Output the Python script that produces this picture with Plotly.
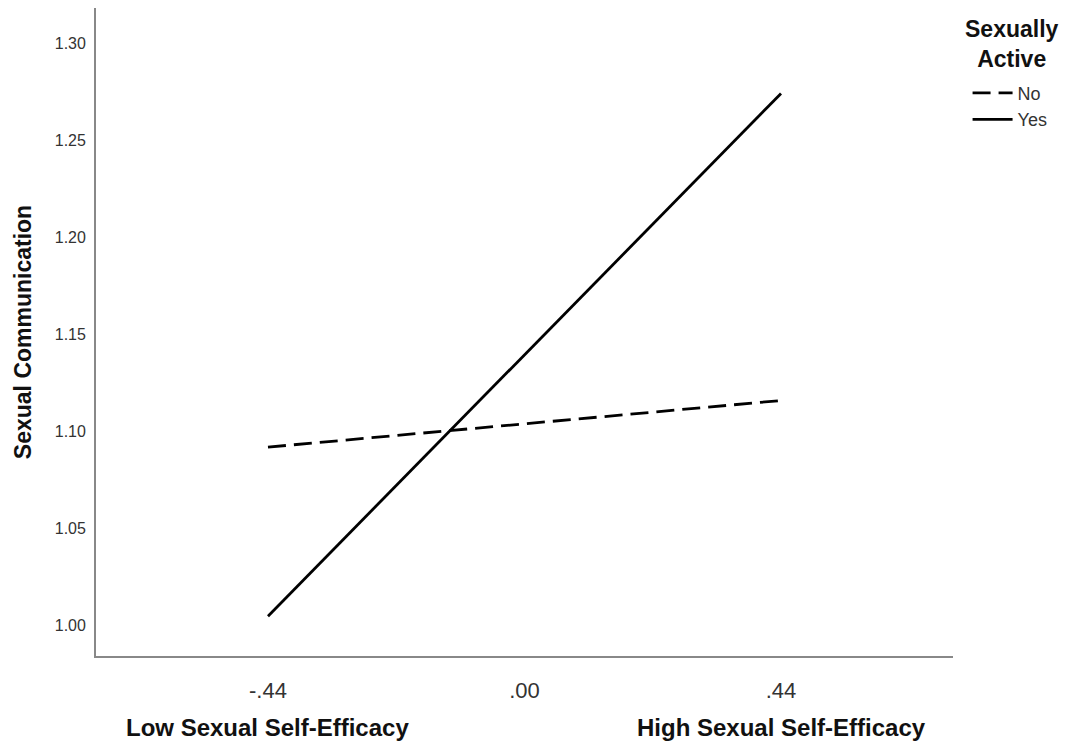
import plotly.graph_objects as go

x_vals = [-0.44, 0.44]
no_vals = [1.092, 1.116]
yes_vals = [1.005, 1.274]
x_tickvals = [-0.44, 0.0, 0.44]
x_ticktext = ["-.44", ".00", ".44"]
y_tickvals = [1.00, 1.05, 1.10, 1.15, 1.20, 1.25, 1.30]

fig = go.Figure()
fig.add_trace(go.Scatter(x=x_vals, y=no_vals, mode="lines", name="No",
                         line=dict(color="black", width=2.8, dash="18px,8px")))
fig.add_trace(go.Scatter(x=x_vals, y=yes_vals, mode="lines", name="Yes",
                         line=dict(color="black", width=2.8)))

fig.update_layout(
    width=1074, height=745,
    margin=dict(l=88, r=129, t=0, b=97, autoexpand=False),
    plot_bgcolor="white", paper_bgcolor="white",
    font=dict(family="Liberation Sans, Arial, sans-serif", color="#222"),
    xaxis=dict(range=[-0.735, 0.735], tickvals=x_tickvals, ticktext=x_ticktext,
               showgrid=False, zeroline=False, showline=True, linecolor="#888", linewidth=1.8,
               ticks="", ticklabelstandoff=14, tickfont=dict(size=22, color="#333")),
    yaxis=dict(range=[0.9845, 1.318], tickvals=y_tickvals, tickformat=".2f",
               showgrid=False, zeroline=False, showline=True, linecolor="#888", linewidth=1.8,
               ticks="", ticklabelstandoff=5, tickfont=dict(size=16, color="#333"),
               title=dict(text="<b>Sexual Communication</b>", font=dict(size=23, color="#111"), standoff=17)),
    legend=dict(x=1.017, y=0.897, xanchor="left", yanchor="top",
                font=dict(size=18, color="#333"), tracegroupgap=0, itemwidth=40,
                bgcolor="rgba(0,0,0,0)"),
    showlegend=True,
)

fig.add_annotation(x=1.069, y=0.944, xref="paper", yref="paper",
                   text="<b>Sexually<br>Active</b>", showarrow=False, align="center",
                   font=dict(size=23, color="#111"), xanchor="center", yanchor="middle")
fig.add_annotation(x=-0.44, y=-0.11, xref="x", yref="paper", text="<b>Low Sexual Self-Efficacy</b>",
                   showarrow=False, font=dict(size=24, color="#111"), yanchor="middle")
fig.add_annotation(x=0.44, y=-0.11, xref="x", yref="paper", text="<b>High Sexual Self-Efficacy</b>",
                   showarrow=False, font=dict(size=24, color="#111"), yanchor="middle")

fig.write_html("out.html")
